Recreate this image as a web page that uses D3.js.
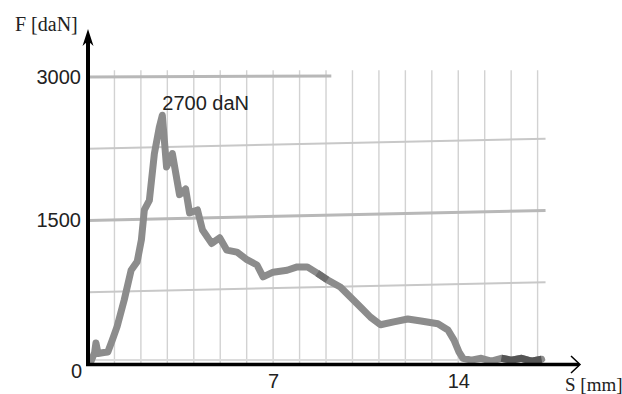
<!DOCTYPE html>
<html>
<head>
<meta charset="utf-8">
<script src="https://cdn.jsdelivr.net/npm/d3@7"></script>
<style>
  body { margin: 0; background: #fff; }
  svg { display: block; }
</style>
</head>
<body>
<div id="chart"></div>
<script>
'use strict';

// values
var distanceMm = [0.1, 0.25, 0.3, 0.38, 0.6, 0.75, 0.92, 1.1, 1.37, 1.63, 1.86, 2.02, 2.13, 2.32, 2.51, 2.7, 2.81,
  2.97, 3.19, 3.46, 3.69, 3.84, 4.14, 4.33, 4.68, 4.98, 5.25, 5.63, 6.01, 6.39, 6.62, 7.0, 7.53, 7.91, 8.29,
  8.67, 9.05, 9.54, 9.92, 10.3, 10.68, 11.06, 11.56, 12.09, 12.59, 13.23, 13.61, 13.84, 14.03, 14.18, 14.49,
  14.87, 15.25, 15.63, 16.01, 16.39, 16.77, 17.15];
var forceDaN = [20, 120, 220, 110, 120, 125, 250, 390, 670, 980, 1070, 1300, 1610, 1710, 2200, 2480, 2600,
  2060, 2200, 1770, 1830, 1580, 1610, 1400, 1260, 1320, 1190, 1170, 1090, 1035, 910, 960, 980, 1015, 1015,
  950, 880, 805, 700, 595, 490, 410, 440, 470, 450, 420, 355, 250, 125, 60, 40,
  60, 30, 60, 40, 60, 30, 50];

var gridMm = [1, 2, 3, 4, 5, 6, 7, 8, 9, 10, 11, 12, 13, 14, 15, 16, 17];
var gridDaN = [750, 1500, 2250, 3000];
var xTickMm = [7, 14];
var yTickDaN = [1500, 3000];
var peakLabel = '2700 daN';
var yTitle = 'F [daN]';
var xTitle = 'S [mm]';

var width = 622, height = 394;
var sans = '"Liberation Sans", Arial, sans-serif';
var serif = '"Liberation Serif", "Times New Roman", serif';

var x = d3.scaleLinear().domain([0, 17]).range([88, 537.6]);
var y = d3.scaleLinear().domain([0, 3000]).range([364, 77]);

var points = distanceMm.map(function(d, i) { return { s: d, f: forceDaN[i] }; });

var svg = d3.select('#chart').append('svg')
  .attr('width', width)
  .attr('height', height);

// grid (the scan is slightly tilted, horizontal lines rise to the right)
var grid = svg.append('g').attr('class', 'grid');

grid.selectAll('.vgrid')
  .data(gridMm)
  .enter().append('line')
  .attr('class', 'vgrid')
  .attr('x1', function(d) { return x(d); })
  .attr('x2', function(d) { return x(d); })
  .attr('y1', y(3070))
  .attr('y2', y(0))
  .attr('stroke', '#d2d2d2')
  .attr('stroke-width', 1.4);

var tilt = 10 / (x(17.3) - x(0));
grid.selectAll('.hgrid')
  .data(gridDaN)
  .enter().append('line')
  .attr('class', 'hgrid')
  .attr('x1', x(0))
  .attr('y1', function(d) { return y(d); })
  .attr('x2', function(d) { return d === 3000 ? x(9.2) : x(17.3); })
  .attr('y2', function(d) {
    if (d === 3000) return y(d) - 1;
    return y(d) - (x(17.3) - x(0)) * tilt;
  })
  .attr('stroke', function(d) { return d % 1500 === 0 ? '#b8b8b8' : '#c8c8c8'; })
  .attr('stroke-width', function(d) { return d % 1500 === 0 ? 3 : 2; });

grid.append('line')
  .attr('x1', x(0)).attr('x2', x(17.3))
  .attr('y1', y(0) - 4).attr('y2', y(0) - 4)
  .attr('stroke', '#dcdcdc')
  .attr('stroke-width', 2);

// curve
var line = d3.line()
  .x(function(d) { return x(d.s); })
  .y(function(d) { return y(d.f); });

svg.append('path')
  .datum(points)
  .attr('d', line)
  .attr('fill', 'none')
  .attr('stroke', '#8c8c8c')
  .attr('stroke-width', 7)
  .attr('stroke-linejoin', 'round')
  .attr('stroke-linecap', 'round');

svg.append('path')
  .datum(points.filter(function(d) { return d.s > 8.6 && d.s < 9.4; }))
  .attr('d', line)
  .attr('fill', 'none')
  .attr('stroke', '#6f6f6f')
  .attr('stroke-width', 7);

svg.append('path')
  .datum(points.filter(function(d) { return d.s >= 15.5; }))
  .attr('d', line)
  .attr('fill', 'none')
  .attr('stroke', '#555')
  .attr('stroke-width', 7);

// axes: labels from d3 axes, lines and arrows drawn by hand
var yAxis = svg.append('g')
  .attr('transform', 'translate(' + x(0) + ',0)')
  .call(d3.axisLeft(y).tickValues(yTickDaN).tickFormat(d3.format('d')).tickSize(0).tickPadding(7));

var xAxis = svg.append('g')
  .attr('transform', 'translate(0,' + y(0) + ')')
  .call(d3.axisBottom(x).tickValues(xTickMm).tickFormat(d3.format('d')).tickSize(0).tickPadding(10));

[yAxis, xAxis].forEach(function(a) {
  a.select('.domain').remove();
  a.selectAll('text')
    .attr('fill', '#222')
    .style('font-family', sans)
    .style('font-size', '20px');
});

svg.append('text')
  .attr('x', x(0) - 6)
  .attr('y', 378)
  .attr('text-anchor', 'end')
  .attr('fill', '#222')
  .style('font-family', sans)
  .style('font-size', '20px')
  .text('0');

svg.append('line')
  .attr('x1', x(0)).attr('x2', x(0))
  .attr('y1', y(0) + 2).attr('y2', 40)
  .attr('stroke', '#000')
  .attr('stroke-width', 4);

svg.append('path')
  .attr('d', 'M' + x(0) + ',29 L' + (x(0) + 5.5) + ',46 L' + x(0) + ',41 L' + (x(0) - 5.5) + ',46 Z')
  .attr('fill', '#000');

svg.append('line')
  .attr('x1', x(0) - 2).attr('x2', 579)
  .attr('y1', y(0) + 0.5).attr('y2', y(0) + 0.5)
  .attr('stroke', '#000')
  .attr('stroke-width', 3.5);

svg.append('polyline')
  .attr('points', '571,356 580,' + (y(0) + 0.5) + ' 571,373')
  .attr('fill', 'none')
  .attr('stroke', '#000')
  .attr('stroke-width', 1.5);

// titles
svg.append('text')
  .attr('x', 15)
  .attr('y', 31)
  .attr('fill', '#222')
  .style('font-family', serif)
  .style('font-size', '20px')
  .text(yTitle);

svg.append('text')
  .attr('x', 565)
  .attr('y', 391)
  .attr('fill', '#222')
  .style('font-family', serif)
  .style('font-size', '19px')
  .text(xTitle);

svg.append('text')
  .attr('x', x(2.81))
  .attr('y', 110)
  .attr('fill', '#222')
  .style('font-family', sans)
  .style('font-size', '20px')
  .text(peakLabel);
</script>
</body>
</html>
